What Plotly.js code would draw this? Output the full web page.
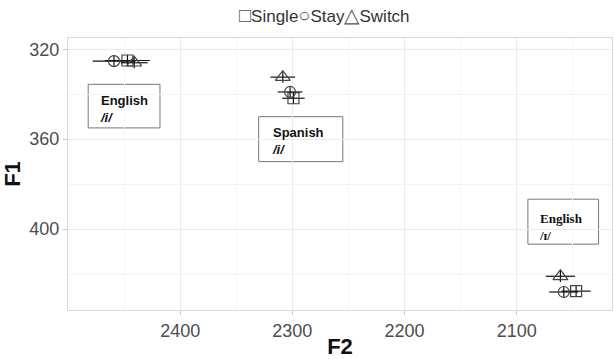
<!DOCTYPE html>
<html>
<head>
<meta charset="utf-8">
<script src="https://cdn.plot.ly/plotly-3.0.1.min.js"></script>
<style>html,body{margin:0;padding:0;background:#fff;}#chart{width:614px;height:359px;}</style>
</head>
<body>
<div id="chart"></div>
<script>
// Vowel categories (order: English /i/, Spanish /i/, English /ɪ/)
const vowels = ["English /i/", "Spanish /i/", "English /ɪ/"];

// Tick labels
const f2Ticks = [2400, 2300, 2200, 2100];
const f1Ticks = [320, 360, 400];

// Single condition
const singleF2 = [2447, 2299, 2047];
const singleF1 = [325, 341.8, 427.6];
const singleF2err = [20, 10, 13];
const singleF1err = [2.5, 2.5, 2.5];

// Stay condition
const stayF2 = [2459, 2302, 2058];
const stayF1 = [325.3, 339, 428];
const stayF2err = [19, 11, 13];
const stayF1err = [2.5, 2.5, 2.5];

// Switch condition
const switchF2 = [2441, 2308.5, 2061];
const switchF1 = [326, 332.4, 421];
const switchF2err = [12, 11, 13];
const switchF1err = [2.5, 2.5, 2.5];

const FONT = "Liberation Sans, Arial, sans-serif";

function series(name, x, y, ex, ey, symbol, size) {
  return {
    type: "scatter", mode: "markers", name: name,
    x: x, y: y, text: vowels,
    marker: {symbol: symbol, size: size, color: "#444", line: {color: "#444", width: 1.2}},
    error_x: {type: "data", array: ex, visible: true, color: "#111", thickness: 1.2, width: 0},
    error_y: {type: "data", array: ey, visible: true, color: "#111", thickness: 1.2, width: 0},
    showlegend: false
  };
}

const data = [
  series("Single", singleF2, singleF1, singleF2err, singleF1err, "square-open", 11),
  series("Stay", stayF2, stayF1, stayF2err, stayF1err, "circle-open", 11),
  series("Switch", switchF2, switchF1, switchF2err, switchF1err, "triangle-up-open", 13)
];

const boxLine = {color: "#777", width: 1};
const layout = {
  width: 614, height: 359,
  margin: {l: 68, r: 2, t: 38, b: 49},
  paper_bgcolor: "#fff", plot_bgcolor: "#fff",
  font: {family: FONT, color: "#333"},
  xaxis: {
    range: [2500, 2015], tickmode: "array", tickvals: f2Ticks, ticktext: f2Ticks.map(String),
    gridcolor: "#ebebeb", gridwidth: 1,
    minor: {tickmode: "array", tickvals: [2450, 2350, 2250, 2150, 2050], showgrid: true, gridcolor: "#f4f4f4", gridwidth: 1},
    ticks: "outside", ticklen: 4, tickcolor: "#ccc",
    tickfont: {size: 18, color: "#4d4d4d", family: FONT},
    showline: true, mirror: true, linecolor: "#d9d9d9", zeroline: false,
    automargin: true,
    title: {text: "<b>F2</b>", font: {size: 22, color: "#111", family: FONT}, standoff: 0}
  },
  yaxis: {
    range: [436, 315], tickmode: "array", tickvals: f1Ticks, ticktext: f1Ticks.map(String),
    gridcolor: "#ebebeb", gridwidth: 1,
    minor: {tickmode: "array", tickvals: [340, 380, 420], showgrid: true, gridcolor: "#f4f4f4", gridwidth: 1},
    ticks: "outside", ticklen: 4, tickcolor: "#ccc",
    tickfont: {size: 18, color: "#4d4d4d", family: FONT},
    showline: true, mirror: true, linecolor: "#d9d9d9", zeroline: false,
    automargin: true,
    title: {text: "<b>F1</b>", font: {size: 22, color: "#111", family: FONT}, standoff: 4}
  },
  shapes: [
    {type: "rect", xref: "x", yref: "y", x0: 2482, x1: 2418, y0: 335.6, y1: 355, line: boxLine, fillcolor: "#fff", layer: "below"},
    {type: "rect", xref: "x", yref: "y", x0: 2330, x1: 2255, y0: 350, y1: 370, line: boxLine, fillcolor: "#fff", layer: "below"},
    {type: "rect", xref: "x", yref: "y", x0: 2090, x1: 2027, y0: 386.7, y1: 406.7, line: boxLine, fillcolor: "#fff", layer: "below"}
  ],
  annotations: [
    {xref: "paper", yref: "paper", x: 0.472, y: 1.085, xanchor: "center", yanchor: "middle", showarrow: false,
     text: "<span style='color:#555;font-size:20px'>□</span>Single<span style='color:#555;font-size:20px'>○</span>Stay<span style='color:#555;font-size:20px'>△</span>Switch",
     font: {size: 17, color: "#333", family: FONT}},
    {xref: "x", yref: "y", x: 2473, y: 338.5, xanchor: "left", yanchor: "top", align: "left", showarrow: false,
     text: "<b>English</b><br><b><i>/i/</i></b>", font: {size: 13, color: "#111", family: FONT}},
    {xref: "x", yref: "y", x: 2320, y: 353, xanchor: "left", yanchor: "top", align: "left", showarrow: false,
     text: "<b>Spanish</b><br><b><i>/i/</i></b>", font: {size: 13, color: "#111", family: FONT}},
    {xref: "x", yref: "y", x: 2082, y: 391, xanchor: "left", yanchor: "top", align: "left", showarrow: false,
     text: "<b>English</b><br><b>/ɪ/</b>", font: {size: 13, color: "#111", family: "Liberation Serif, Times New Roman, serif"}}
  ]
};

Plotly.newPlot("chart", data, layout, {displayModeBar: false, staticPlot: true});
</script>
</body>
</html>
